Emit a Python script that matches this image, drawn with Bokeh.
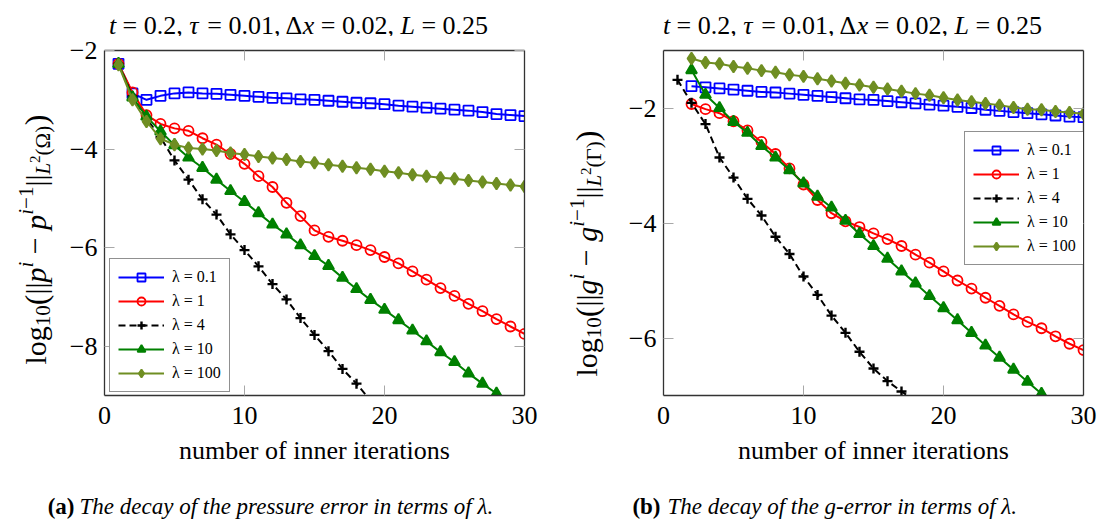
from math import pi
from bokeh.plotting import figure
from bokeh.layouts import row, column
from bokeh.models import (Range1d, FixedTicker, LinearAxis, Legend, LegendItem,
                          Label, CustomJSTickFormatter)
from bokeh.embed import file_html
from bokeh.resources import INLINE

# ---------------- data ----------------
iters_full = list(range(1, 31))

# (a) pressure error
p_lam01 = [-2.27, -2.87, -3.00, -2.92, -2.87, -2.85, -2.87, -2.88, -2.90, -2.92,
           -2.94, -2.96, -2.97, -2.99, -3.00, -3.02, -3.04, -3.06, -3.07, -3.09,
           -3.12, -3.14, -3.16, -3.18, -3.20, -3.22, -3.25, -3.29, -3.31, -3.33]
p_lam1 = [-2.27, -2.85, -3.31, -3.49, -3.58, -3.63, -3.78, -3.91, -4.10, -4.30,
          -4.55, -4.77, -5.09, -5.36, -5.65, -5.78, -5.86, -5.95, -6.05, -6.19,
          -6.32, -6.48, -6.65, -6.82, -6.98, -7.14, -7.29, -7.45, -7.60, -7.75]
p_lam4_x = list(range(1, 20))
p_lam4 = [-2.27, -2.93, -3.38, -3.76, -4.23, -4.62, -5.02, -5.33, -5.73, -6.05,
          -6.38, -6.74, -7.05, -7.43, -7.77, -8.10, -8.46, -8.76, -9.10]
p_lam10_x = list(range(1, 29))
p_lam10 = [-2.27, -2.95, -3.34, -3.64, -3.92, -4.17, -4.38, -4.62, -4.85, -5.07,
           -5.30, -5.53, -5.73, -5.95, -6.17, -6.37, -6.61, -6.84, -7.06, -7.26,
           -7.47, -7.68, -7.90, -8.12, -8.32, -8.55, -8.76, -8.96]
p_lam100 = [-2.29, -3.00, -3.44, -3.79, -3.91, -3.98, -4.00, -4.03, -4.08, -4.11,
            -4.15, -4.18, -4.21, -4.25, -4.28, -4.32, -4.35, -4.38, -4.41, -4.45,
            -4.48, -4.52, -4.55, -4.58, -4.60, -4.64, -4.67, -4.70, -4.73, -4.76]

# (b) g-error
iters_from2 = list(range(2, 31))
g_lam01 = [-1.62, -1.64, -1.66, -1.68, -1.70, -1.72, -1.73, -1.75, -1.77, -1.79,
           -1.81, -1.83, -1.85, -1.86, -1.88, -1.90, -1.92, -1.94, -1.96, -1.98,
           -2.00, -2.03, -2.05, -2.07, -2.09, -2.11, -2.13, -2.15, -2.16]
g_lam1 = [-1.93, -2.02, -2.09, -2.23, -2.39, -2.59, -2.80, -3.05, -3.33, -3.60,
          -3.83, -3.97, -4.07, -4.18, -4.28, -4.40, -4.55, -4.69, -4.84, -5.00,
          -5.14, -5.30, -5.44, -5.59, -5.72, -5.83, -5.97, -6.10, -6.21]
g_lam4_x = list(range(1, 19))
g_lam4 = [-1.51, -1.91, -2.28, -2.86, -3.21, -3.58, -3.87, -4.24, -4.54, -4.93,
          -5.25, -5.61, -5.91, -6.24, -6.53, -6.75, -6.93, -7.10]
g_lam10_x = list(range(2, 28))
g_lam10 = [-1.34, -1.77, -2.00, -2.24, -2.43, -2.66, -2.86, -3.08, -3.31, -3.54,
           -3.73, -3.96, -4.19, -4.40, -4.62, -4.84, -5.05, -5.27, -5.48, -5.69,
           -5.91, -6.13, -6.34, -6.55, -6.76, -6.97]
g_lam100 = [-1.14, -1.21, -1.23, -1.28, -1.31, -1.35, -1.38, -1.42, -1.45, -1.49,
            -1.53, -1.57, -1.60, -1.64, -1.67, -1.71, -1.75, -1.78, -1.82, -1.86,
            -1.89, -1.92, -1.95, -1.99, -2.02, -2.03, -2.06, -2.08, -2.10]

legend_labels = ["λ = 0.1", "λ = 1", "λ = 4", "λ = 10", "λ = 100"]
xlabel_text = "number of inner iterations"
x_ticks = [0, 10, 20, 30]
# title "t = 0.2, τ = 0.01, Δx = 0.02, L = 0.25" as (text, style) runs
title_runs = [("t", "italic"), (" = 0.2, ", "normal"), ("τ", "italic"),
              (" = 0.01, Δ", "normal"), ("x", "italic"), (" = 0.02, ", "normal"),
              ("L", "italic"), (" = 0.25", "normal")]
cap_a = ("(a)", "The decay of the pressure error in terms of λ.")
cap_b = ("(b)", "The decay of the g-error in terms of λ.")

# ---------------- styling / layout constants ----------------
SERIF = "Liberation Serif"
BLUE, RED, BLACK, GREEN, OLIVE = "#0000ff", "#ff0000", "#000000", "#008000", "#6f8e22"
AXIS_COL = "#333333"
TICK_COL = "#a8a8a8"
PAGE_W = 1102
TITLE_H = 36
ROW_H = 448
CAP_H = 43
YL_W = 60
PLOT_W = 491
FRAME_W, FRAME_H = 420, 345
FRAME_TOP = 50

# approximate advance widths (em) of Times-metric glyphs, used to chain text runs
W_UP = {" ": .25, "=": .564, ".": .25, ",": .25, "(": .333, ")": .333, "|": .2,
        "−": .564, "l": .278, "o": .5, "g": .5, "Δ": .612, "Ω": .768, "Γ": .578}
W_IT = {"t": .278, "x": .444, "L": .556, "p": .5, "g": .5, "i": .278, "τ": .44}


def run_width(text, style, size):
    tab = W_IT if style == "italic" else W_UP
    return sum((0.5 if ch.isdigit() else tab.get(ch, W_UP.get(ch, .5))) for ch in text) * size


def text_strip(width, height, x_page0, y_top, y_bottom):
    """A blank figure (no title, no axes) whose frame maps data coordinates to page pixels."""
    f = figure(width=width, height=height, output_backend="svg", toolbar_location=None,
               title=None,
               x_range=Range1d(x_page0, x_page0 + width), y_range=Range1d(y_bottom, y_top),
               x_axis_location=None, y_axis_location=None,
               min_border_left=0, min_border_right=0, min_border_top=0, min_border_bottom=0)
    f.outline_line_color = None
    f.grid.visible = False
    f.background_fill_color = "white"
    f.border_fill_color = "white"
    return f


def typeset(f, runs, start, base, rotated):
    """runs: (text, style, size, baseline shift downwards in px)."""
    cur = 0.0
    for text, style, size, shift in runs:
        stripped = text.lstrip(" ")
        lead = run_width(text[:len(text) - len(stripped)], style, size)
        shown = stripped.rstrip(" ")
        pos = cur + lead
        if rotated:
            x, y, ang = base + shift, start - pos, pi / 2
        else:
            x, y, ang = start + pos, base + shift, 0
        f.add_layout(Label(x=x, y=y, text=shown, angle=ang, text_font=SERIF,
                           text_font_size=f"{size}px", text_font_style=style,
                           text_color="black", text_align="left",
                           text_baseline="alphabetic"))
        cur += run_width(text, style, size)
    return cur


def make_plot(bl, yr, yticks, series, legend_loc):
    bt = FRAME_TOP - TITLE_H
    p = figure(width=PLOT_W, height=ROW_H, output_backend="svg", toolbar_location=None,
               x_range=Range1d(0, 30), y_range=Range1d(*yr),
               min_border_left=bl, min_border_right=PLOT_W - bl - FRAME_W,
               min_border_top=bt, min_border_bottom=ROW_H - bt - FRAME_H)
    p.outline_line_color = None
    p.grid.visible = False
    p.background_fill_color = "white"
    p.border_fill_color = "white"

    fmt = CustomJSTickFormatter(code="return (tick < 0 ? '\\u2212' : '') + Math.abs(tick).toString();")
    blank = CustomJSTickFormatter(code="return '';")

    def style_axis(ax, ticks, show_labels):
        ax.ticker = FixedTicker(ticks=ticks)
        ax.axis_line_color = AXIS_COL
        ax.axis_line_width = 1.3
        ax.major_tick_line_color = TICK_COL
        ax.major_tick_in = 10
        ax.major_tick_out = 0
        ax.minor_tick_line_color = None
        ax.major_label_text_font = SERIF
        ax.major_label_text_color = "black"
        if show_labels:
            ax.major_label_text_font_size = "26px"
        else:
            ax.formatter = blank
            ax.major_label_text_font_size = "1px"
            ax.major_label_standoff = 0

    style_axis(p.xaxis[0], ticks=x_ticks, show_labels=True)
    style_axis(p.yaxis[0], ticks=yticks, show_labels=True)
    p.yaxis[0].formatter = fmt
    p.xaxis[0].major_label_standoff = 11
    p.yaxis[0].major_label_standoff = 7
    p.xaxis[0].axis_label = xlabel_text
    p.xaxis[0].axis_label_text_font = SERIF
    p.xaxis[0].axis_label_text_font_size = "26px"
    p.xaxis[0].axis_label_text_font_style = "normal"
    p.xaxis[0].axis_label_text_color = "black"
    p.xaxis[0].axis_label_standoff = 9

    top = LinearAxis()
    style_axis(top, x_ticks, False)
    p.add_layout(top, "above")
    right = LinearAxis()
    style_axis(right, yticks, False)
    p.add_layout(right, "right")

    renderers = []
    for (xs, ys, col, marker, fill, size, dash) in series:
        r_line = p.line(xs, ys, line_color=col, line_width=2, line_dash=dash)
        r_mark = p.scatter(xs, ys, marker=marker, size=size, line_color=col,
                           line_width=1.8 if marker != "cross" else 2.4,
                           fill_color=fill, fill_alpha=1.0 if fill else 0)
        renderers.append([r_line, r_mark])

    items = [LegendItem(label=lab, renderers=rs) for lab, rs in zip(legend_labels, renderers)]
    leg = Legend(items=items, location=legend_loc, orientation="vertical",
                 glyph_width=46, glyph_height=20, label_height=20, spacing=4,
                 padding=8, margin=0, label_standoff=8,
                 label_text_font=SERIF, label_text_font_size="16px",
                 label_text_color="black",
                 border_line_color="#222222", border_line_width=1.3,
                 background_fill_color="white", background_fill_alpha=1.0)
    p.add_layout(leg, "center")
    return p


def ylabel_runs(var, dom):
    M, S, SS = 30, 21, 15
    return [("log", "normal", M, 0), ("10", "normal", S, 7), ("(", "normal", M + 2, 0),
            ("||", "normal", M, 0), (var, "italic", M, 0), ("i", "italic", S, -10),
            (" − ", "normal", M, 0), (var, "italic", M, 0), ("i", "italic", S, -10),
            ("−1", "normal", S, -10), ("||", "normal", M, 0), ("L", "italic", S, 7),
            ("2", "normal", SS, -1), ("(" + dom + ")", "normal", S, 7),
            (")", "normal", M + 2, 0)]


series_p = [
    (iters_full, p_lam01, BLUE, "square", None, 10, "solid"),
    (iters_full, p_lam1, RED, "circle", None, 10, "solid"),
    (p_lam4_x, p_lam4, BLACK, "cross", None, 10, "7 4"),
    (p_lam10_x, p_lam10, GREEN, "triangle", GREEN, 11, "solid"),
    (iters_full, p_lam100, OLIVE, "diamond", OLIVE, 12, "solid"),
]
series_g = [
    (iters_from2, g_lam01, BLUE, "square", None, 10, "solid"),
    (iters_from2, g_lam1, RED, "circle", None, 10, "solid"),
    (g_lam4_x, g_lam4, BLACK, "cross", None, 10, "7 4"),
    (g_lam10_x, g_lam10, GREEN, "triangle", GREEN, 11, "solid"),
    (iters_from2, g_lam100, OLIVE, "diamond", OLIVE, 12, "solid"),
]

# plots: left frame starts at page x 104, right one at 663
p1 = make_plot(104 - YL_W, (-9, -2), [-8, -6, -4, -2], series_p, (5, 3))
p2 = make_plot(663 - (YL_W + PLOT_W + YL_W), (-7, -1), [-6, -4, -2], series_g, (301, 130))

# y-label strips: inside a row their frames get aligned with the plot frames,
# so their data y equals page pixels between FRAME_TOP and FRAME_TOP + FRAME_H
yl1 = text_strip(YL_W, ROW_H, 0, FRAME_TOP, FRAME_TOP + FRAME_H)
typeset(yl1, ylabel_runs("p", "Ω"), 364, 35, True)
yl2 = text_strip(YL_W, ROW_H, YL_W + PLOT_W, FRAME_TOP, FRAME_TOP + FRAME_H)
typeset(yl2, ylabel_runs("g", "Γ"), 376, YL_W + PLOT_W + 35, True)

# titles strip
tf = text_strip(PAGE_W, TITLE_H, 0, 0, TITLE_H)
t_runs = [(t, s, 26, 0) for t, s in title_runs]
t_width = sum(run_width(t, s, 26) for t, s in title_runs)
for cx in (298, 852):
    typeset(tf, t_runs, cx - t_width / 2, 25, False)

# captions strip
cf = text_strip(PAGE_W, CAP_H, 0, TITLE_H + ROW_H, TITLE_H + ROW_H + CAP_H)
for (tag, txt), tx, cx in ((cap_a, 74, 79), (cap_b, 660, 667)):
    cf.add_layout(Label(x=tx, y=506, text=tag, text_font=SERIF, text_color="black",
                        text_font_size="23px", text_font_style="bold",
                        text_align="right", text_baseline="alphabetic"))
    cf.add_layout(Label(x=cx, y=506, text=txt, text_font=SERIF, text_color="black",
                        text_font_size="23px", text_font_style="italic",
                        text_align="left", text_baseline="alphabetic"))

layout = column(tf, row(yl1, p1, yl2, p2), cf)
open("out.html", "w").write(file_html(layout, INLINE))
